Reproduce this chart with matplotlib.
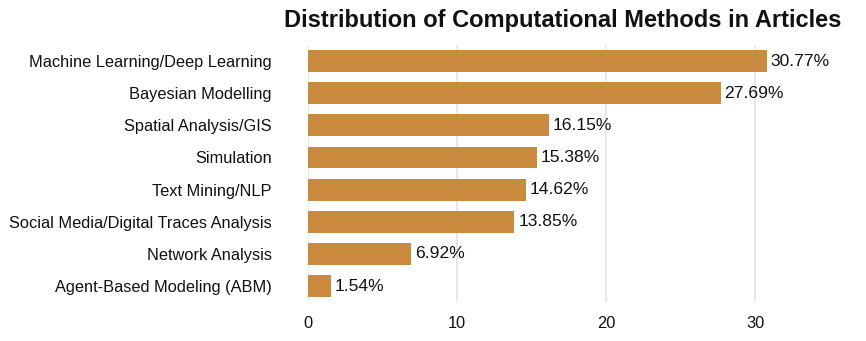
import matplotlib
matplotlib.use("Agg")
import matplotlib.pyplot as plt
import numpy as np

methods = [
    "Machine Learning/Deep Learning",
    "Bayesian Modelling",
    "Spatial Analysis/GIS",
    "Simulation",
    "Text Mining/NLP",
    "Social Media/Digital Traces Analysis",
    "Network Analysis",
    "Agent-Based Modeling (ABM)",
]
shares = [30.77, 27.69, 16.15, 15.38, 14.62, 13.85, 6.92, 1.54]

plt.rcParams.update({
    "font.family": ["Liberation Sans", "DejaVu Sans"],
    "font.size": 11.6,
})
BAR_C = "#CB8B3E"
GRID_C = "#E3E3E3"
INK = "#111111"

fig = plt.figure(figsize=(8.66, 3.41), dpi=100)
ax = fig.add_axes([0.3557, 0.114, 0.6023, 0.754])

y = np.arange(len(methods))
ax.barh(y, shares, height=0.68, color=BAR_C, edgecolor="none", zorder=2)
for yi, v in zip(y, shares):
    ax.text(v + 0.25, yi, f"{v:.2f}%", va="center", ha="left",
            fontsize=12.6, color=INK)

ax.set_yticks(y)
ax.set_yticklabels(methods)
ax.set_ylim(len(methods) - 0.5, -0.5)
ax.set_xlim(0, 35)
ax.set_xticks([0, 10, 20, 30])
ax.tick_params(length=0, colors=INK, labelsize=11.8)
ax.tick_params(axis="y", pad=26)
ax.tick_params(axis="x", pad=10)
ax.grid(axis="x", color=GRID_C, lw=1.2, zorder=0)
ax.set_axisbelow(True)
for s in ax.spines.values():
    s.set_visible(False)

fig.text(0.650, 0.941, "Distribution of Computational Methods in Articles",
         ha="center", va="center", fontsize=17, fontweight="bold", color=INK)

fig.savefig("out.png", dpi=100, facecolor="white")
